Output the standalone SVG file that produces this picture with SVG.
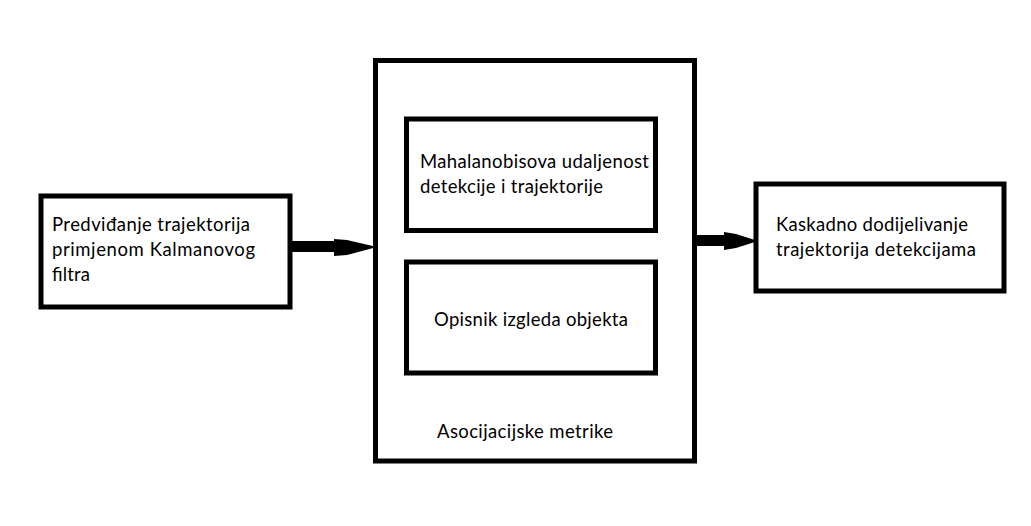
<svg xmlns="http://www.w3.org/2000/svg" width="1031" height="526" viewBox="0 0 1031 526">
  <style>
    .box { fill: #ffffff; stroke: #000000; stroke-width: 5; }
    .lbl { font-family: Lato, "Open Sans", "Liberation Sans", sans-serif; font-size: 18.5px; fill: #000000; }
    .arrow { fill: #000000; stroke: none; }
  </style>
  <rect x="0" y="0" width="1031" height="526" fill="#ffffff"/>

  <g id="node-metrics-container">
    <rect class="box" x="375.5" y="60.5" width="319" height="400.5"/>
    <text class="lbl" x="437" y="438" textLength="176">Asocijacijske metrike</text>
  </g>

  <g id="node-kalman">
    <rect class="box" x="41" y="196" width="249" height="111"/>
    <text class="lbl" x="52" y="231" textLength="198">Predviđanje trajektorija</text>
    <text class="lbl" x="52" y="256" textLength="203">primjenom Kalmanovog</text>
    <text class="lbl" x="52" y="281" textLength="38">filtra</text>
  </g>

  <g id="node-mahalanobis">
    <rect class="box" x="406.5" y="119" width="249" height="111.5"/>
    <text class="lbl" x="420" y="168" textLength="229">Mahalanobisova udaljenost</text>
    <text class="lbl" x="420" y="193" textLength="183">detekcije i trajektorije</text>
  </g>

  <g id="node-appearance">
    <rect class="box" x="406.5" y="262" width="249" height="111"/>
    <text class="lbl" x="434" y="326" textLength="194">Opisnik izgleda objekta</text>
  </g>

  <g id="node-cascade">
    <rect class="box" x="756" y="184" width="248" height="107"/>
    <text class="lbl" x="776" y="231" textLength="192">Kaskadno dodijelivanje</text>
    <text class="lbl" x="776" y="256" textLength="200">trajektorija detekcijama</text>
  </g>

  <g id="connectors">
    <rect class="arrow" x="292" y="241" width="44" height="11"/>
    <polygon class="arrow" points="334,239 347,240 377,247 347,255 334,256"/>
    <rect class="arrow" x="697" y="235" width="29" height="11"/>
    <polygon class="arrow" points="724,232 736,234 758,241 736,248 724,250"/>
  </g>
</svg>
